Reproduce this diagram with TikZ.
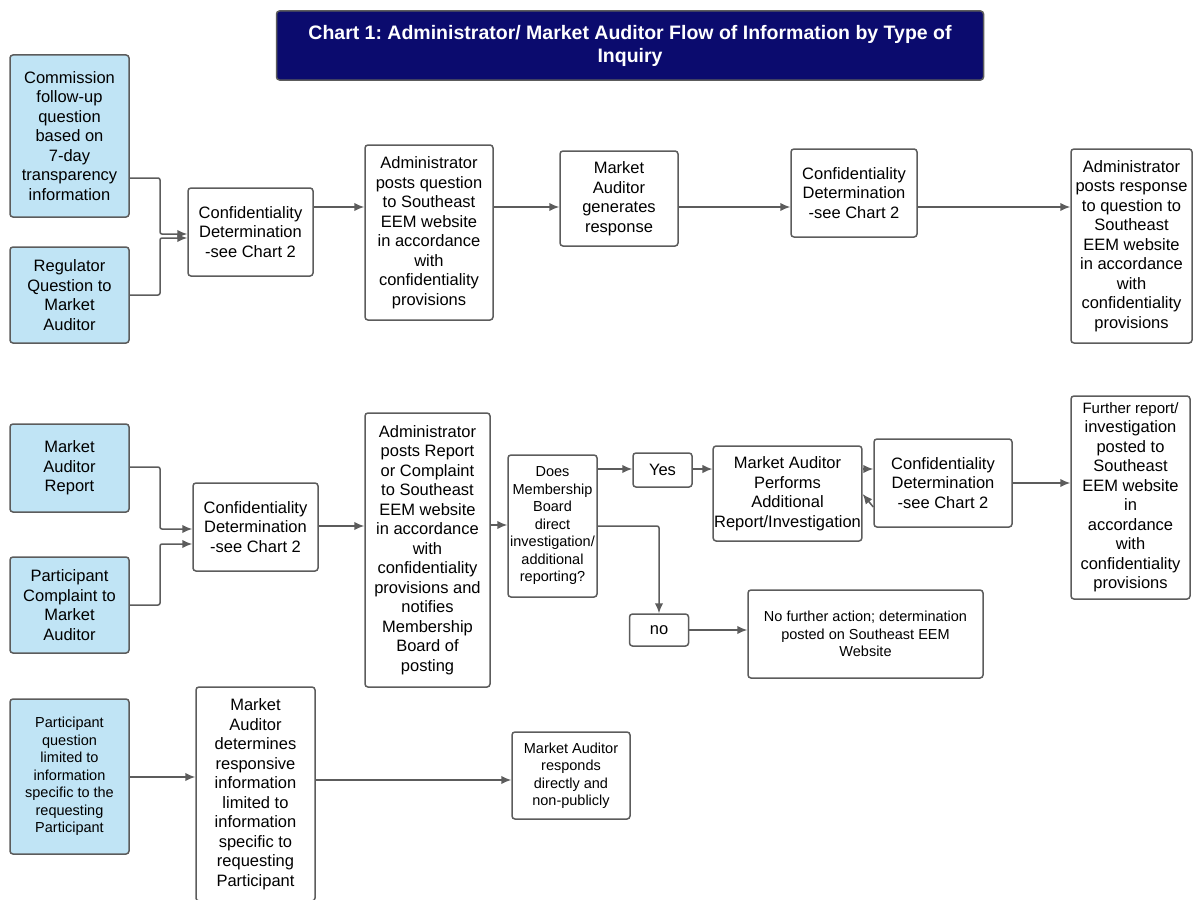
\documentclass[tikz,border=0pt]{standalone}
\usepackage{fontspec}
\setmainfont{Liberation Sans}
\frenchspacing
\usetikzlibrary{arrows.meta}
\definecolor{linegray}{HTML}{5C5C5C}
\definecolor{boxblue}{HTML}{C0E4F5}
\definecolor{titlenavy}{HTML}{0B0B6E}

\begin{document}
\begin{tikzpicture}[x=1pt,y=-1pt,
  main_node/.style={rectangle,rounded corners=3pt,draw=linegray,line width=1.5pt,fill=white,align=center,inner sep=1pt,font=\fontsize{16.5}{19.5}\selectfont},
  input_node/.style={main_node,fill=boxblue},
  small_node/.style={main_node,font=\fontsize{14.5}{17.5}\selectfont},
  title_node/.style={main_node,fill=titlenavy,text=white,font=\fontsize{19.5}{23}\selectfont\bfseries},
  flow/.style={draw=linegray,line width=1.5pt,rounded corners=2pt,-{Latex[length=10pt,width=8.5pt]}}]

  \useasboundingbox (0,0) rectangle (1193,899);

  \node[title_node,minimum width=707,minimum height=69] (title) at (630,45.5) {Chart 1: Administrator/ Market Auditor Flow of Information by Type of\\Inquiry};

  % question from Commission or regulator
  \node[input_node,minimum width=119,minimum height=162] (com) at (69.5,136) {Commission\\follow-up\\question\\based on\\7-day\\transparency\\information};
  \node[input_node,minimum width=119,minimum height=96] (reg) at (69.5,295) {Regulator\\Question to\\Market\\Auditor};
  \node[main_node,minimum width=125,minimum height=88] (conf1) at (250.5,232) {Confidentiality\\Determination\\-see Chart 2};
  \node[main_node,minimum width=128,minimum height=175] (adm1) at (429,232.5) {Administrator\\posts question\\to Southeast\\EEM website\\in accordance\\with\\confidentiality\\provisions};
  \node[main_node,minimum width=118,minimum height=95] (gen) at (619,198.5) {Market\\Auditor\\generates\\response};
  \node[main_node,minimum width=126,minimum height=88] (conf2) at (854,193) {Confidentiality\\Determination\\-see Chart 2};
  \node[main_node,minimum width=121,minimum height=194] (adm2) at (1131.5,246) {Administrator\\posts response\\to question to\\Southeast\\EEM website\\in accordance\\with\\confidentiality\\provisions};

  \draw[flow] (com.east |- 0,178) -| (160,234) -- (conf1.west |- 0,234);
  \draw[flow] (reg.east |- 0,295) -| (160,238) -- (conf1.west |- 0,238);
  \draw[flow] (conf1.east |- 0,207) -- (adm1.west |- 0,207);
  \draw[flow] (adm1.east |- 0,207) -- (gen.west |- 0,207);
  \draw[flow] (gen.east |- 0,207) -- (conf2.west |- 0,207);
  \draw[flow] (conf2.east |- 0,207) -- (adm2.west |- 0,207);

  % report or complaint
  \node[input_node,minimum width=119,minimum height=88] (rep) at (69.5,468) {Market\\Auditor\\Report};
  \node[input_node,minimum width=119,minimum height=96] (cmp) at (69.5,605) {Participant\\Complaint to\\Market\\Auditor};
  \node[main_node,minimum width=125,minimum height=88] (conf3) at (255.5,527) {Confidentiality\\Determination\\-see Chart 2};
  \node[main_node,minimum width=125,minimum height=274] (adm3) at (427.5,550) {Administrator\\posts Report\\or Complaint\\to Southeast\\EEM website\\in accordance\\with\\confidentiality\\provisions and\\notifies\\Membership\\Board of\\posting};
  \node[small_node,minimum width=89,minimum height=142] (does) at (552.5,526) {Does\\Membership\\Board\\direct\\investigation/\\additional\\reporting?};
  \node[main_node,minimum width=59,minimum height=34] (yes) at (662.5,470) {Yes};
  \node[main_node,minimum width=139,minimum height=95] (perf) at (787.5,493.5) {Market Auditor\\Performs\\Additional\\Report/Investigation};
  \node[main_node,minimum width=138,minimum height=88] (conf4) at (943,483) {Confidentiality\\Determination\\-see Chart 2};
  \node[main_node,minimum width=119,minimum height=203] (fur) at (1130.5,497.5) {\fontsize{15}{17.5}\selectfont Further report/\\investigation\\posted to\\Southeast\\EEM website\\\fontsize{16.5}{19}\selectfont in\\accordance\\with\\confidentiality\\provisions};
  \node[main_node,minimum width=59,minimum height=32] (no) at (659,630) {no};
  \node[small_node,minimum width=235,minimum height=88] (none) at (865.5,634) {No further action; determination\\posted on Southeast EEM\\Website};

  \draw[flow] (rep.east |- 0,467) -| (160,529) -- (conf3.west |- 0,529);
  \draw[flow] (cmp.east |- 0,605) -| (160,544) -- (conf3.west |- 0,544);
  \draw[flow] (conf3.east |- 0,526) -- (adm3.west |- 0,526);
  \draw[flow] (adm3.east |- 0,525) -- (does.west |- 0,525);
  \draw[flow] (does.east |- 0,469) -- (yes.west |- 0,469);
  \draw[flow] (yes.east |- 0,469) -- (perf.west |- 0,469);
  \draw[flow] (perf.east |- 0,469) -- (conf4.west |- 0,469);
  \draw[flow] (conf4.west |- 0,507) -- (perf.east |- 0,494);
  \draw[flow] (conf4.east |- 0,483) -- (fur.west |- 0,483);
  \draw[flow] (does.east |- 0,526) -| (no.north);
  \draw[flow] (no.east) -- (none.west |- no.east);

  % participant question
  \node[small_node,fill=boxblue,minimum width=119,minimum height=155] (pq) at (69.5,776.5) {Participant\\question\\limited to\\information\\specific to the\\requesting\\Participant};
  \node[main_node,minimum width=119,minimum height=214] (det) at (255.5,794) {Market\\Auditor\\determines\\responsive\\information\\limited to\\information\\specific to\\requesting\\Participant};
  \node[small_node,minimum width=118,minimum height=87] (resp) at (571,775.5) {Market Auditor\\responds\\directly and\\non-publicly};

  \draw[flow] (pq.east |- 0,777) -- (det.west |- 0,777);
  \draw[flow] (det.east |- 0,780) -- (resp.west |- 0,780);

\end{tikzpicture}
\end{document}
